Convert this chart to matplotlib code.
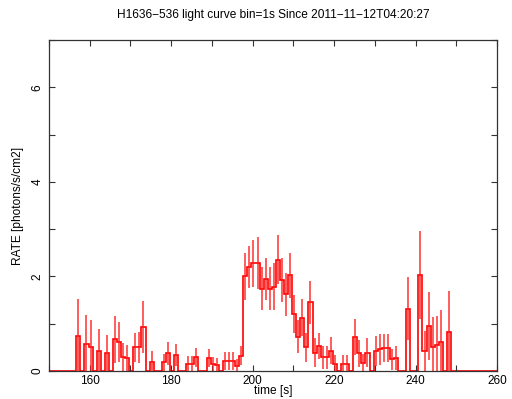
#!/usr/bin/env python3

import numpy as np
import matplotlib
matplotlib.use("Agg")
import matplotlib.pyplot as plt
from matplotlib.ticker import MultipleLocator

plt.rcParams['font.family'] = ['Liberation Sans', 'DejaVu Sans']

# light curve, 1 s bins, left edge of first bin
t_first = 156.7
rate = [
    0.74, 0.00, 0.57, 0.51, 0.00, 0.43, 0.00, 0.37, 0.00, 0.67,
    0.62, 0.30, 0.28, 0.00, 0.50, 0.50, 0.93, 0.00, 0.20, 0.00,
    0.00, 0.18, 0.37, 0.00, 0.34, 0.00, 0.00, 0.15, 0.15, 0.29,
    0.00, 0.00, 0.27, 0.15, 0.13, 0.00, 0.22, 0.22, 0.22, 0.11,
    0.32, 2.00, 2.20, 2.28, 2.28, 1.74, 1.95, 1.74, 1.78, 2.35,
    1.92, 1.62, 2.02, 1.20, 0.72, 1.13, 0.50, 1.45, 0.39, 0.53,
    0.29, 0.29, 0.43, 0.15, 0.00, 0.15, 0.15, 0.00, 0.72, 0.37,
    0.16, 0.39, 0.00, 0.42, 0.46, 0.48, 0.48, 0.25, 0.27, 0.00,
    0.00, 1.32, 0.00, 0.00, 2.04, 0.42, 0.95, 0.51, 0.56, 0.62,
    0.00, 0.82,
]
err = [
    0.78, 0.00, 0.61, 0.56, 0.00, 0.45, 0.00, 0.39, 0.00, 0.50,
    0.42, 0.30, 0.28, 0.00, 0.30, 0.33, 0.54, 0.00, 0.22, 0.00,
    0.00, 0.18, 0.25, 0.00, 0.24, 0.00, 0.00, 0.16, 0.17, 0.20,
    0.00, 0.00, 0.19, 0.15, 0.14, 0.00, 0.19, 0.19, 0.19, 0.14,
    0.20, 0.50, 0.45, 0.50, 0.55, 0.45, 0.45, 0.45, 0.50, 0.52,
    0.47, 0.45, 0.48, 0.40, 0.35, 0.40, 0.30, 0.45, 0.30, 0.28,
    0.24, 0.24, 0.28, 0.18, 0.00, 0.18, 0.18, 0.00, 0.38, 0.28,
    0.20, 0.30, 0.00, 0.32, 0.33, 0.30, 0.30, 0.22, 0.25, 0.00,
    0.00, 0.67, 0.00, 0.00, 0.93, 0.42, 0.72, 0.63, 0.60, 0.68,
    0.00, 0.88,
]

rate = np.array(rate)
err = np.array(err)

# zero padding so the curve runs across the whole window
n_before, n_after = 7, 12
vals = np.concatenate([np.zeros(n_before), rate, np.zeros(n_after)])
edges = t_first - n_before + np.arange(len(vals) + 1)

fig = plt.figure(figsize=(5.12, 3.99), dpi=100)
ax = fig.add_axes([0.0957, 0.0702, 0.875, 0.8296])

ax.stairs(vals, edges, color='#ff0000', lw=1.2)

centers = t_first + np.arange(len(rate)) + 0.5
m = rate > 0
ax.vlines(centers[m], np.clip(rate[m] - err[m], 0, None), rate[m] + err[m],
          color='#ff1a1a', lw=1.1, alpha=0.9)

ax.set_xlim(150, 260)
ax.set_ylim(0, 7)
ax.xaxis.set_major_locator(MultipleLocator(20))
ax.xaxis.set_minor_locator(MultipleLocator(10))
ax.yaxis.set_major_locator(MultipleLocator(2))
ax.yaxis.set_minor_locator(MultipleLocator(1))
ax.tick_params(which='both', direction='in', top=True, right=True,
               length=4, width=0.8, color='#333333', labelsize=8.5)
ax.tick_params(axis='x', pad=3)
ax.tick_params(axis='y', labelrotation=90, pad=4)
for lab in ax.get_yticklabels():
    lab.set_va('center')
for s in ax.spines.values():
    s.set_color('#333333')
    s.set_linewidth(0.9)

fig.text(0.533, 0.962, 'H1636\u2212536 light curve bin=1s Since 2011\u221211\u221212T04:20:27',
         ha='center', va='center', fontsize=8.6)
fig.text(0.533, 0.02, 'time [s]', ha='center', va='center', fontsize=8.6)
fig.text(0.035, 0.485, 'RATE [photons/s/cm2]', ha='center', va='center',
         rotation=90, fontsize=8.6)

fig.savefig('out.png', dpi=100)
